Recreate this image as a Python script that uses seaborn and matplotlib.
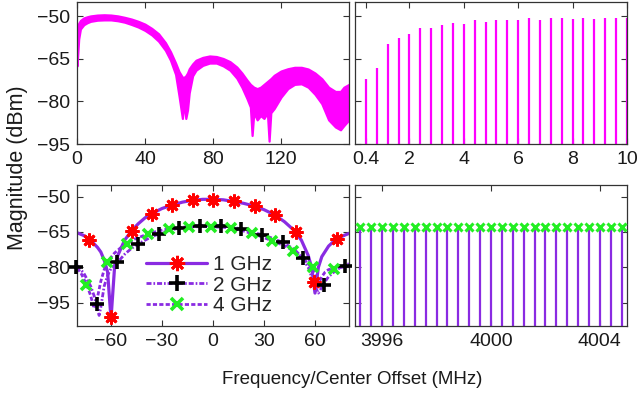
import matplotlib
matplotlib.use("Agg")
import matplotlib.pyplot as plt
import seaborn as sns
import pandas as pd
from matplotlib.lines import Line2D

# ---------------- data ----------------
# top-left: wideband spectrum (upper / lower envelope of dense trace), MHz vs dBm
tl_freq = [0, 1, 2, 4, 6, 8, 12, 16, 20, 24, 28, 32, 36, 40, 44, 48, 52, 55, 58,
           60, 61, 62, 63, 64, 65, 66, 68, 70, 74, 78, 82, 86, 90, 94, 97, 100,
           102, 103, 104, 106, 108, 110, 112, 113, 114, 116, 120, 124, 128, 132,
           136, 140, 144, 148, 152, 155, 157, 160]
tl_upper = [-56, -52.5, -51.5, -50.6, -50.2, -49.9, -49.6, -49.5, -49.6, -49.9,
            -50.4, -51.0, -51.8, -52.8, -54.3, -56.2, -59.3, -62.5, -66.5,
            -69.5, -70.5, -71.5, -71.5, -71, -70, -68.5, -66.8, -65.5, -64.5,
            -64, -64.2, -64.9, -66, -67.9, -70, -72.5,
            -74, -74.5, -75, -75.5, -75, -74, -73, -72.5, -72, -70.8, -69.3,
            -68.5, -68.0, -68.0, -68.6, -70, -72, -75, -76.5, -76.5, -75, -74]
tl_lower = [-67.5, -58, -54.5, -53, -52.3, -51.8, -51.4, -51.3, -51.3, -51.6,
            -52.1, -52.9, -53.8, -55, -56.6, -58.8, -62, -65.5, -70.5,
            -78, -82, -86, -80, -86, -83, -77, -71, -69, -67.3,
            -66.5, -66.5, -67.5, -69, -71.8, -75, -79,
            -82, -92, -84, -86.5, -85, -86, -84, -94, -84, -82.5, -78.5,
            -75.5, -74, -73.8, -75, -77.5, -80.8, -86.5, -89, -90, -88.5, -86.5]

# top-right: comb line levels vs spacing (GHz)
tr_spacing = [0.4, 0.8, 1.2, 1.6, 2.0, 2.4, 2.8, 3.2, 3.6, 4.0, 4.4, 4.8, 5.2,
              5.6, 6.0, 6.4, 6.8, 7.2, 7.6, 8.0, 8.4, 8.8, 9.2, 9.6, 10.0]
tr_level = [-72, -68.1, -59.9, -57.6, -56.4, -54.2, -54.2, -53.1, -52.5, -52.9,
            -51.5, -51.9, -51.5, -51.3, -51.5, -50.8, -51.3, -50.8, -50.8,
            -51.1, -50.5, -51.1, -50.5, -50.6, -50.6]

# bottom-left: spectra around center for three spacings
bl_freq = [-80, -76, -72, -68, -66, -64, -62, -60, -58, -56, -52, -48, -44, -40,
           -36, -30, -24, -18, -12, -6, 0, 6, 12, 18, 24, 30, 36, 42, 48, 52,
           56, 58, 60, 62, 64, 68, 72, 76, 80]
bl_1ghz = [-65.3, -66.5, -68.5, -71.5, -73.5, -77, -82, -102, -81, -75, -68.5,
           -64.6, -61.5, -59, -57.2, -55, -53.5, -52.3, -51.5, -51.1, -51.1,
           -51.3, -52, -52.8, -53.9, -55.5, -57.6, -60.6, -64.5, -68.5, -75,
           -80, -91, -80, -75.5, -71, -68.3, -66.8, -65.6]
bl2_freq = [-80, -76, -72, -70, -68, -67, -66, -64, -62, -60, -56, -52, -48, -44,
            -40, -36, -30, -24, -18, -12, -6, 0, 6, 12, 18, 24, 30, 36, 42, 48,
            52, 56, 58, 60, 62, 64, 66, 68, 72, 76, 80]
bl_2ghz = [-79.3, -82.5, -88, -92, -97, -100.5, -97, -88, -83.5, -80.5, -77.8,
           -74.5, -72, -70.1, -68.5, -67, -65.3, -64, -63, -62.5, -62.3, -62.2,
           -62.4, -63, -64, -65.2, -66.4, -67.9, -69.8, -72.5, -75.5, -80, -84,
           -88, -91, -88.5, -86, -84, -81.5, -79.6, -78.5]
bl4_freq = [-80, -78, -76, -74, -72, -70, -68, -66, -64, -62, -58, -54, -50, -46,
            -40, -36, -30, -24, -18, -12, -6, 0, 6, 12, 18, 24, 30, 36, 42, 48,
            52, 56, 58, 60, 62, 64, 66, 68, 72, 76, 80]
bl_4ghz = [-80.5, -82, -85, -88, -92, -97.5, -93, -86, -81, -77.6, -74, -71.5,
           -69.8, -68, -66.3, -65.3, -64.2, -63.4, -63, -62.8, -62.7, -62.8,
           -63, -63.5, -64.6, -65.9, -67.4, -69.1, -70.8, -73.3, -75.5, -78.5,
           -80.2, -83, -87, -84, -82, -81, -80.5, -80, -79.5]

mk1_freq = [-73, -60, -47.9, -36, -24, -12, 0, 12.3, 24.5, 36.5, 49, 59.5, 72.9]
mk1_level = [-68.3, -101.2, -64.7, -57.2, -53.6, -51.5, -51.2, -52, -53.8,
             -57.6, -64.8, -86.4, -68]
mk2_freq = [-80.6, -68.5, -56.3, -44, -32, -20, -7.9, 4.6, 16.6, 28.7, 41.1, 53,
            65, 77.5]
mk2_level = [-80, -95.6, -77.9, -70.1, -65.8, -63.3, -62.3, -62.3, -63.7,
             -66.1, -69.4, -76, -87.5, -79.4]
mk4_freq = [-74.5, -62.5, -50.5, -38, -26, -13.9, -1.4, 10.5, 22.8, 34.7, 47,
            58.8, 70.9]
mk4_level = [-87.5, -77.8, -70.1, -65.8, -63.7, -63, -62.7, -63.3, -65.6,
             -68.7, -72.9, -80.1, -80.9]

# bottom-right: comb lines around 4 GHz (MHz)
br_freq = [3995.2, 3995.6, 3996.0, 3996.4, 3996.8, 3997.2, 3997.6, 3998.0,
           3998.4, 3998.8, 3999.2, 3999.6, 4000.0, 4000.4, 4000.8, 4001.2,
           4001.6, 4002.0, 4002.4, 4002.8, 4003.2, 4003.6, 4004.0, 4004.4,
           4004.8]
br_level = [-62.8] * 25

legend_labels = ["1 GHz", "2 GHz", "4 GHz"]

# ---------------- style ----------------
sns.set_theme(style="white")
plt.rcParams["font.family"] = ["Liberation Sans", "DejaVu Sans"]
plt.rcParams["axes.edgecolor"] = "#333333"
plt.rcParams["axes.linewidth"] = 0.9

MAG = "#ff00ff"
PUR = "#8a2be2"
GRN = "#22ee22"
AST = (8, 2, 0)  # asterisk marker
FS = 14

fig = plt.figure(figsize=(6.39, 3.97), dpi=100)
W, H = 639, 397


def add_ax(l, t, r, b):
    return fig.add_axes([l / W, 1 - b / H, (r - l) / W, (b - t) / H])


ax_tl = add_ax(77, 2, 349, 144)
ax_tr = add_ax(355, 2, 627, 144)
ax_bl = add_ax(77, 185, 349, 326)
ax_br = add_ax(355, 185, 627, 326)

for ax in (ax_tl, ax_tr, ax_bl, ax_br):
    ax.tick_params(direction="in", length=4, width=0.8, top=True, right=True,
                   labelsize=FS, colors="#333333", labelcolor="#1a1a1a", pad=5,
                   bottom=True, left=True)
    ax.set_xlabel("")
    ax.set_ylabel("")

# top-left
tl_df = pd.DataFrame({"f": tl_freq, "up": tl_upper, "lo": tl_lower})
ax_tl.fill_between(tl_df["f"], tl_df["lo"], tl_df["up"], color=MAG, lw=1.6,
                   edgecolor=MAG)
ax_tl.set_xlim(0, 160)
ax_tl.set_ylim(-95, -45)
ax_tl.set_xticks([0, 40, 80, 120])
ax_tl.set_yticks([-50, -65, -80, -95])

# top-right
ax_tr.vlines(tr_spacing, -95, tr_level, color=MAG, lw=1.6)
ax_tr.set_xlim(0, 10)
ax_tr.set_ylim(-95, -45)
ax_tr.set_xticks([0.4, 2, 4, 6, 8, 10])
ax_tr.set_xticklabels(["0.4", "2", "4", "6", "8", "10"])
ax_tr.set_yticks([-50, -65, -80, -95])
ax_tr.set_yticklabels([])

# bottom-left
DASHDOT = (0, (1.8, 0.7, 0.6, 0.7))
DASHED = (0, (1.5, 0.8))
sns.lineplot(x=bl_freq, y=bl_1ghz, ax=ax_bl, color=PUR, lw=2.3, sort=False,
             linestyle="-")
sns.lineplot(x=bl2_freq, y=bl_2ghz, ax=ax_bl, color=PUR, lw=2.0, sort=False,
             linestyle=DASHDOT)
sns.lineplot(x=bl4_freq, y=bl_4ghz, ax=ax_bl, color=PUR, lw=2.0, sort=False,
             linestyle=DASHED)
ax_bl.plot(mk1_freq, mk1_level, ls="none", marker=AST, ms=10, mfc="red",
           mec="red", mew=2.0, clip_on=False, zorder=5)
ax_bl.plot(mk2_freq, mk2_level, ls="none", marker="+", ms=10, mec="black",
           mew=2.6, clip_on=False, zorder=5)
ax_bl.plot(mk4_freq, mk4_level, ls="none", marker="x", ms=7.5, mec=GRN,
           mew=2.6, clip_on=False, zorder=5)
ax_bl.set_xlim(-80, 80)
ax_bl.set_ylim(-105, -45)
ax_bl.set_xticks([-60, -30, 0, 30, 60])
ax_bl.set_yticks([-50, -65, -80, -95])

handles = [
    Line2D([], [], color=PUR, lw=2.3, ls="-", marker=AST, ms=11, mfc="red",
           mec="red", mew=2.0),
    Line2D([], [], color=PUR, lw=2.0, ls=DASHDOT, marker="+",
           ms=12, mec="black", mew=2.6),
    Line2D([], [], color=PUR, lw=2.0, ls=DASHED, marker="x", ms=8,
           mec=GRN, mew=2.6),
]
ax_bl.legend(handles, legend_labels, loc="upper left",
             bbox_to_anchor=(0.255, 0.50), frameon=False, fontsize=15,
             handlelength=2.9, handletextpad=0.3, labelspacing=0.06,
             borderpad=0, borderaxespad=0, numpoints=1)

# bottom-right
ax_br.vlines(br_freq, -105, br_level, color=PUR, lw=1.6)
ax_br.plot(br_freq, br_level, ls="none", marker="x", ms=6, mec=GRN,
           mew=2.2, clip_on=False, zorder=5)
ax_br.set_xlim(3995, 4005)
ax_br.set_ylim(-105, -45)
ax_br.set_xticks([3996, 4000, 4004])
ax_br.set_yticks([-50, -65, -80, -95])
ax_br.set_yticklabels([])

fig.text(352 / W, 1 - 379 / H, "Frequency/Center Offset (MHz)", ha="center",
         va="center", fontsize=13.5, color="#1a1a1a")
fig.text(18 / W, 1 - 168 / H, "Magnitude (dBm)", ha="center", va="center",
         rotation=90, fontsize=15.5, color="#1a1a1a")

fig.savefig("out.png", dpi=100, facecolor="white")
